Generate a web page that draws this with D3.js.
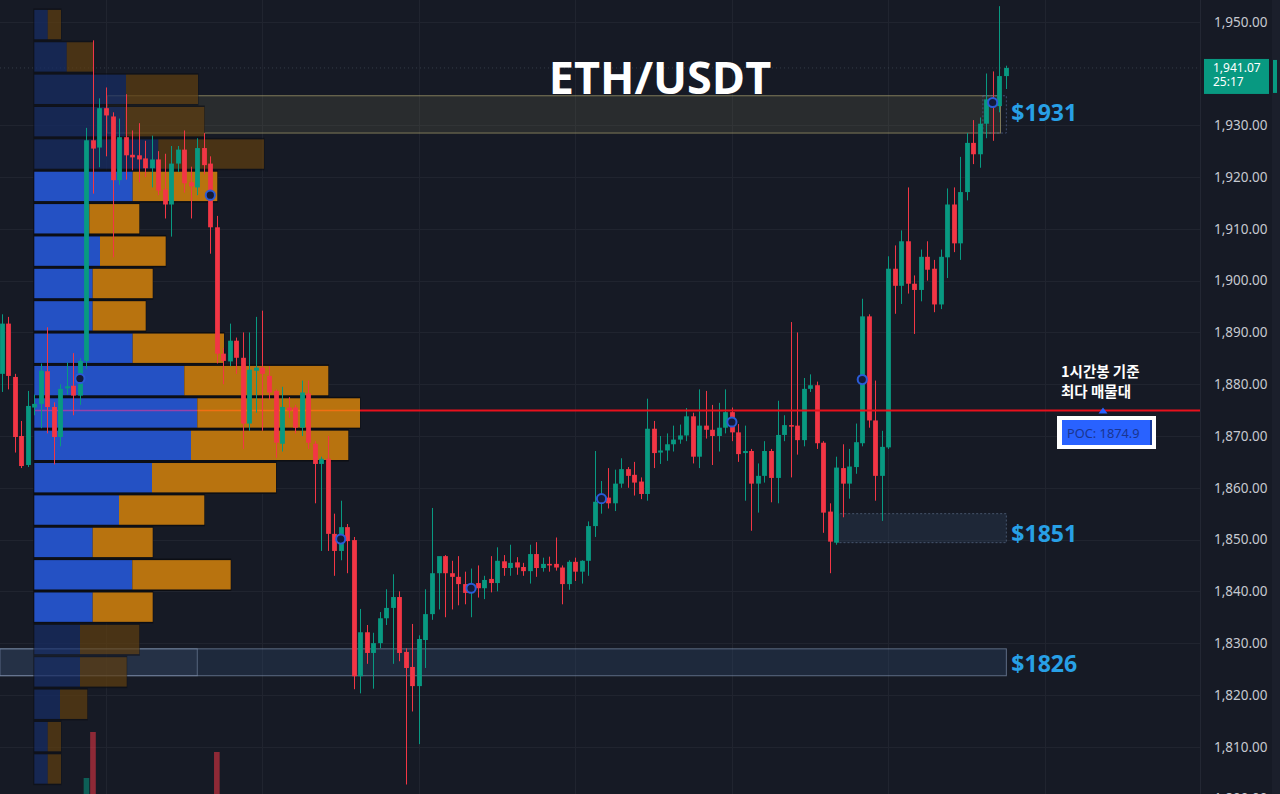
<!DOCTYPE html>
<html>
<head>
<meta charset="utf-8">
<script src="https://cdn.jsdelivr.net/npm/d3@7"></script>
<style>
html, body { margin: 0; padding: 0; background: #161a25; overflow: hidden; }
svg { display: block; }
</style>
</head>
<body>
<svg id="chart" width="1280" height="794"></svg>
<script>
// [open, high, low, close] per candle
const candles = [
  [1882.0,1893.5,1878.5,1891.7],[1891.7,1893.0,1879.0,1881.6],[1881.4,1882.0,1866.8,1869.8],[1870.0,1872.9,1863.8,1864.2],
  [1864.4,1878.7,1864.0,1875.8],[1875.5,1878.0,1874.0,1876.2],[1876.2,1884.0,1871.5,1882.6],[1882.5,1891.0,1870.5,1875.6],
  [1875.6,1876.5,1864.5,1869.8],[1869.8,1880.0,1868.0,1879.1],[1879.2,1884.2,1878.0,1879.6],[1879.7,1886.0,1874.0,1877.8],
  [1877.8,1885.0,1876.0,1884.5],[1884.5,1929.5,1883.0,1927.1],[1927.1,1946.4,1916.8,1925.5],[1925.7,1935.2,1921.9,1933.3],
  [1933.3,1937.3,1924.0,1931.9],[1931.7,1932.5,1904.5,1919.4],[1919.4,1931.3,1918.5,1927.7],[1927.7,1936.0,1919.5,1924.2],
  [1924.3,1929.0,1921.3,1923.8],[1924.2,1930.4,1919.0,1923.4],[1923.6,1927.0,1920.0,1921.7],[1921.7,1928.0,1918.0,1923.4],
  [1923.4,1925.0,1916.5,1917.4],[1917.6,1924.5,1912.0,1914.7],[1914.7,1926.0,1908.5,1922.6],[1922.6,1926.0,1921.0,1925.3],
  [1925.3,1929.0,1917.0,1918.8],[1919.0,1922.0,1912.0,1918.2],[1918.0,1927.5,1916.5,1925.6],[1925.6,1928.5,1920.5,1922.3],
  [1922.6,1924.0,1905.2,1910.3],[1910.3,1912.5,1884.0,1885.9],[1885.9,1887.0,1880.0,1884.5],[1884.4,1891.7,1883.5,1888.4],
  [1888.4,1889.0,1882.0,1885.1],[1885.1,1890.0,1867.5,1872.4],[1872.4,1890.0,1871.0,1882.8],[1882.6,1893.0,1874.5,1883.2],
  [1883.2,1894.2,1871.0,1882.0],[1881.6,1883.5,1877.0,1878.4],[1878.7,1879.0,1865.8,1868.7],[1868.5,1879.5,1867.0,1875.6],
  [1875.5,1877.5,1873.5,1874.9],[1875.5,1876.0,1870.5,1871.6],[1871.6,1880.7,1870.0,1878.4],[1878.2,1880.7,1867.5,1868.7],
  [1868.5,1869.0,1857.0,1864.6],[1864.6,1866.0,1847.8,1865.6],[1865.6,1870.0,1847.8,1851.1],[1851.1,1855.0,1843.0,1847.8],
  [1847.8,1857.5,1846.0,1852.4],[1852.4,1853.0,1843.5,1849.7],[1849.9,1850.5,1821.1,1823.6],[1823.6,1836.6,1820.3,1832.1],
  [1832.1,1833.5,1826.0,1828.1],[1828.1,1832.0,1821.2,1830.0],[1830.0,1836.0,1829.0,1834.8],[1834.8,1840.4,1833.5,1836.8],
  [1836.8,1843.3,1826.0,1838.9],[1838.9,1840.0,1826.5,1828.1],[1828.3,1829.0,1802.7,1825.2],[1825.4,1833.7,1816.8,1821.7],
  [1821.7,1831.5,1810.5,1830.8],[1830.6,1840.4,1825.2,1835.6],[1835.6,1856.1,1834.5,1843.5],[1843.5,1846.2,1836.5,1846.8],
  [1846.8,1847.0,1835.0,1843.5],[1843.5,1845.9,1836.5,1842.8],[1842.8,1846.8,1837.3,1841.4],[1841.4,1843.8,1837.5,1839.7],
  [1839.8,1844.4,1835.0,1841.2],[1841.6,1845.0,1838.8,1840.6],[1840.6,1843.0,1838.5,1842.2],[1842.4,1846.8,1839.8,1841.6],
  [1841.6,1848.5,1840.0,1845.9],[1845.8,1847.0,1843.0,1844.5],[1844.5,1849.0,1843.0,1845.5],[1845.6,1846.6,1843.2,1844.6],
  [1844.7,1845.5,1843.0,1843.9],[1843.9,1849.0,1841.5,1847.2],[1847.2,1849.5,1842.8,1844.5],[1844.5,1846.5,1843.8,1845.3],
  [1845.3,1846.7,1843.8,1845.0],[1845.3,1850.4,1844.0,1844.6],[1844.6,1845.0,1837.5,1841.4],[1841.4,1846.0,1840.3,1845.7],
  [1845.7,1846.5,1842.0,1843.8],[1843.8,1846.0,1841.5,1845.9],[1845.9,1853.5,1843.0,1852.6],[1852.6,1867.1,1850.5,1857.3],
  [1857.3,1861.3,1855.0,1858.2],[1858.1,1863.8,1856.0,1857.0],[1857.0,1863.5,1855.5,1860.8],[1860.8,1865.7,1860.0,1863.6],
  [1863.6,1864.0,1860.0,1862.3],[1862.5,1865.0,1858.5,1861.0],[1861.2,1862.0,1857.8,1858.8],[1858.8,1877.2,1857.5,1871.4],
  [1871.4,1872.9,1863.8,1866.7],[1866.8,1870.0,1864.6,1867.2],[1867.2,1870.5,1865.2,1868.4],[1868.4,1872.0,1867.0,1869.3],
  [1869.3,1872.2,1868.5,1870.1],[1870.1,1875.4,1869.0,1873.8],[1873.8,1874.5,1864.7,1866.0],[1866.0,1879.0,1863.8,1872.0],
  [1872.0,1878.7,1869.5,1871.2],[1871.2,1876.0,1864.4,1870.0],[1870.0,1876.4,1867.0,1871.6],[1871.6,1879.0,1870.5,1874.6],
  [1874.6,1875.5,1869.0,1870.7],[1870.7,1872.3,1865.0,1866.5],[1866.7,1872.0,1857.5,1867.1],[1867.1,1867.5,1851.7,1860.8],
  [1860.8,1864.7,1855.2,1862.3],[1862.3,1869.0,1861.0,1867.1],[1867.1,1867.5,1857.2,1861.9],[1861.9,1876.8,1857.0,1870.2],
  [1870.2,1874.0,1869.0,1872.1],[1872.1,1892.0,1862.0,1871.8],[1872.0,1890.0,1866.4,1869.2],[1869.2,1881.2,1868.0,1879.1],
  [1879.1,1881.9,1878.5,1879.8],[1879.8,1880.5,1867.5,1868.6],[1868.7,1869.0,1851.3,1855.2],[1855.4,1857.0,1843.5,1849.6],
  [1849.4,1866.0,1849.0,1863.9],[1863.8,1868.4,1854.3,1860.8],[1860.8,1867.5,1857.9,1864.1],[1864.0,1872.4,1862.7,1868.8],
  [1868.6,1896.5,1868.0,1893.1],[1893.1,1893.5,1871.6,1873.0],[1873.0,1880.7,1857.5,1862.3],[1862.3,1871.0,1853.6,1867.9],
  [1867.8,1904.7,1867.5,1902.3],[1902.3,1906.8,1893.6,1899.0],[1899.0,1909.7,1895.5,1907.6],[1907.6,1918.0,1897.5,1899.4],
  [1899.4,1901.0,1889.7,1898.2],[1898.2,1906.0,1896.0,1904.6],[1904.6,1907.6,1900.0,1902.1],[1902.3,1904.0,1893.9,1895.4],
  [1895.4,1906.0,1894.5,1904.6],[1904.5,1917.8,1900.5,1914.7],[1914.7,1918.0,1905.5,1907.2],[1907.2,1923.9,1904.0,1917.1],
  [1917.1,1928.5,1915.5,1926.6],[1926.6,1931.0,1922.5,1924.4],[1924.4,1931.5,1921.8,1930.3],[1930.3,1940.0,1927.5,1935.0],
  [1935.2,1940.4,1927.0,1933.5],[1933.7,1953.0,1932.5,1939.5],[1939.5,1941.5,1937.0,1941.07]
]

// visible volume bars at the bottom edge
const volIdx = [13, 14, 33]
const volVal = [22, 68, 48]

// volume profile (top bin first)
const profileTop = 1952.57
const binSize = 6.25
const buyVol = [13.4, 32.4, 91.7, 91, 124, 98.4, 55, 65.7, 58.4, 58.4, 98.4, 150, 163, 156.7, 117.7, 84.7, 58.4, 98, 58.4, 45.7, 45.7, 25.7, 13.4, 13.4]
const sellVol = [13.3, 26.6, 72, 79, 105.7, 84.6, 50, 65.7, 60, 53, 91.3, 144, 162.7, 157.3, 124, 85.3, 60, 98.4, 60, 59.3, 46.7, 27.3, 13.3, 13.3]
const vaFirst = 5
const vaLast = 18

const poc = 1874.9
const lastPrice = 1941.07
const countdown = "25:17"

// session markers (candle index, price)
const markerIdx = [12, 32, 52, 72, 92, 112, 132, 152]
const markerPrice = [1881.1, 1916.5, 1850.1, 1840.6, 1857.9, 1872.7, 1880.9, 1934.4]

// zones
const zoneLabels = ["$1931", "$1851", "$1826"]
const zoneLow = [1928.5, 1849.4, 1823.7]
const zoneHigh = [1935.7, 1855.0, 1828.9]
const zoneFrom = [16.2, 128, -0.3]
const zoneTo = [153.2, 154.1, 154.1]

const priceTicks = [1800, 1810, 1820, 1830, 1840, 1850, 1860, 1870, 1880, 1890, 1900, 1910, 1920, 1930, 1950]
const gridIdx = [16, 40, 64, 88, 112, 136, 160]

const W = 1280, H = 794
const plotRight = 1200
const up = "#089981", down = "#f23645"

const svg = d3.select("#chart")
const y = d3.scaleLinear().domain([1810, 1950]).range([746.7, 21.7])
const x = d3.scaleLinear().domain([0, 154]).range([1.7, 1005.7])
const vol = d3.scaleLinear().domain([0, 100]).range([800, 700])
const prof = d3.scaleLinear().domain([0, 100]).range([34.3, 134.3])

svg.append("rect").attr("width", W).attr("height", H).attr("fill", "#161a25")

// grid
const grid = svg.append("g")
grid.selectAll(".h").data(priceTicks).join("line")
    .attr("x1", 0).attr("x2", plotRight)
    .attr("y1", d => Math.round(y(d)) + 0.5).attr("y2", d => Math.round(y(d)) + 0.5)
    .attr("stroke", "#20242f")
grid.selectAll(".v").data(gridIdx).join("line")
    .attr("x1", d => Math.round(x(d)) + 0.5).attr("x2", d => Math.round(x(d)) + 0.5)
    .attr("y1", 0).attr("y2", H)
    .attr("stroke", "#20242f")

// zones
const zg = svg.append("g")
const labelShift = [-2, 5, 1]
zoneLabels.forEach((lab, k) => {
    const x0 = x(zoneFrom[k]), x1 = x(zoneTo[k])
    const y0 = y(zoneHigh[k]), y1 = y(zoneLow[k])
    if (k === 0) {
        zg.append("rect").attr("x", x0).attr("y", y0).attr("width", x1 - x0).attr("height", y1 - y0)
            .attr("fill", "rgba(110,110,80,0.22)").attr("stroke", "rgba(170,160,110,0.7)").attr("stroke-width", 1)
        zg.append("rect").attr("x", x(150.5)).attr("y", y0).attr("width", x(154.1) - x(150.5)).attr("height", y1 - y0)
            .attr("fill", "none").attr("stroke", "rgba(90,110,160,0.6)").attr("stroke-dasharray", "2,2")
    } else if (k === 1) {
        zg.append("rect").attr("x", x0).attr("y", y0).attr("width", x1 - x0).attr("height", y1 - y0)
            .attr("fill", "rgba(50,70,100,0.3)").attr("stroke", "rgba(100,120,150,0.6)").attr("stroke-dasharray", "2,2")
    } else {
        zg.append("rect").attr("x", x0).attr("y", y0).attr("width", x1 - x0).attr("height", y1 - y0)
            .attr("fill", "rgba(50,75,115,0.3)").attr("stroke", "rgba(150,170,200,0.55)")
        zg.append("rect").attr("x", x0).attr("y", y0).attr("width", x(30) - x0).attr("height", y1 - y0)
            .attr("fill", "rgba(90,110,150,0.12)").attr("stroke", "rgba(150,170,200,0.45)")
    }
    zg.append("text").attr("x", x(154.1) + 5).attr("y", (y0 + y1) / 2 + labelShift[k])
        .attr("dominant-baseline", "central")
        .attr("font-family", "'Open Sans', sans-serif").attr("font-weight", 700).attr("font-size", 23)
        .attr("fill", "#28a0e6").text(lab)
})

// last price dotted line
svg.append("line").attr("x1", 0).attr("x2", plotRight + 4)
    .attr("y1", y(lastPrice)).attr("y2", y(lastPrice))
    .attr("stroke", "rgba(120,140,150,0.3)").attr("stroke-dasharray", "1,3")

// volume bars
svg.append("g").selectAll("rect").data(volIdx).join("rect")
    .attr("x", d => x(d) - 2.8).attr("width", 5.6)
    .attr("y", (d, k) => vol(volVal[k])).attr("height", (d, k) => vol(0) - vol(volVal[k]))
    .attr("fill", d => candles[d][3] >= candles[d][0] ? "rgba(8,153,129,0.55)" : "rgba(242,54,69,0.55)")

// volume profile
const rows = buyVol.map((b, k) => ({k, b, s: sellVol[k], top: profileTop - k * binSize}))
const inVA = d => d.k >= vaFirst && d.k <= vaLast
const pg = svg.append("g")
pg.selectAll(".back").data(rows).join("rect")
    .attr("x", prof(0) - 1).attr("y", d => y(d.top))
    .attr("width", d => prof(d.b + d.s) - prof(0) + 1.5)
    .attr("height", d => y(d.top - binSize) - y(d.top))
    .attr("fill", "#0c0e14")
    .attr("opacity", d => inVA(d) ? 1 : 0.6)
pg.selectAll(".buy").data(rows).join("rect")
    .attr("x", prof(0)).attr("y", d => y(d.top) + 1.5)
    .attr("width", d => prof(d.b) - prof(0))
    .attr("height", d => y(d.top - binSize) - y(d.top) - 3)
    .attr("fill", "#2451c4")
    .attr("opacity", d => inVA(d) ? 1 : 0.33)
pg.selectAll(".sell").data(rows).join("rect")
    .attr("x", d => prof(d.b)).attr("y", d => y(d.top) + 1.5)
    .attr("width", d => prof(d.s) - prof(0))
    .attr("height", d => y(d.top - binSize) - y(d.top) - 3)
    .attr("fill", "#b8730f")
    .attr("opacity", d => inVA(d) ? 1 : 0.35)

// poc line inside profile
const pocRow = rows.find(d => poc <= d.top && poc > d.top - binSize)
svg.append("line").attr("x1", prof(0)).attr("x2", prof(pocRow.b))
    .attr("y1", y(poc)).attr("y2", y(poc))
    .attr("stroke", "rgba(200,60,160,0.7)").attr("stroke-width", 1.5)
svg.append("line").attr("x1", prof(pocRow.b)).attr("x2", prof(pocRow.b + pocRow.s))
    .attr("y1", y(poc)).attr("y2", y(poc))
    .attr("stroke", "rgba(255,110,20,0.8)").attr("stroke-width", 1.5)

// candles
const cg = svg.append("g")
cg.selectAll("line").data(candles).join("line")
    .attr("x1", (d, i) => Math.round(x(i)) + 0.5).attr("x2", (d, i) => Math.round(x(i)) + 0.5)
    .attr("y1", d => y(d[1])).attr("y2", d => y(d[2]))
    .attr("stroke", d => d[3] >= d[0] ? up : down).attr("stroke-width", 1)
cg.selectAll("rect").data(candles).join("rect")
    .attr("x", (d, i) => Math.round(x(i)) + 0.5 - 2.4).attr("width", 4.8)
    .attr("y", d => y(Math.max(d[0], d[3])))
    .attr("height", d => Math.max(1.2, Math.abs(y(d[0]) - y(d[3]))))
    .attr("fill", d => d[3] >= d[0] ? up : down)

// markers
svg.append("g").selectAll("circle").data(markerIdx).join("circle")
    .attr("cx", d => x(d)).attr("cy", (d, k) => y(markerPrice[k])).attr("r", 4.6)
    .attr("fill", "#141a38").attr("stroke", "#2a5bd7").attr("stroke-width", 2)

// poc line
svg.append("line").attr("x1", prof(pocRow.b + pocRow.s)).attr("x2", plotRight + 5)
    .attr("y1", y(poc)).attr("y2", y(poc))
    .attr("stroke", "#e8101c").attr("stroke-width", 2)

// title
svg.append("text").attr("x", 660).attr("y", 94).attr("text-anchor", "middle")
    .attr("font-family", "'Open Sans', sans-serif").attr("font-weight", 700).attr("font-size", 45)
    .attr("fill", "#ffffff").text("ETH/USDT")

// annotation
const note = svg.append("text").attr("font-family", "'Noto Sans CJK KR', sans-serif")
    .attr("font-weight", 700).attr("font-size", 14.5).attr("fill", "#ffffff")
note.append("tspan").attr("x", 1061).attr("y", 376.5).text("1시간봉 기준")
note.append("tspan").attr("x", 1061).attr("y", 396.5).text("최다 매물대")

// poc label
const py = y(poc)
svg.append("path")
    .attr("d", `M${1103 - 4.5},${py + 3} L${1103},${py - 3} L${1103 + 4.5},${py + 3} Z`)
    .attr("fill", "#2962ff")
svg.append("rect").attr("x", 1057).attr("y", 416).attr("width", 99).attr("height", 33).attr("fill", "#ffffff")
svg.append("rect").attr("x", 1062).attr("y", 420).attr("width", 90).attr("height", 25).attr("fill", "#2962ff")
svg.append("rect").attr("x", 1150).attr("y", 420).attr("width", 2).attr("height", 25).attr("fill", "#173a9c")
svg.append("text").attr("x", 1067).attr("y", 437.5)
    .attr("font-family", "'Noto Sans', sans-serif").attr("font-size", 12.8).attr("fill", "#1a3591")
    .text("POC: " + poc.toFixed(1))

// price axis
svg.append("rect").attr("x", plotRight).attr("y", 0).attr("width", W - plotRight).attr("height", H).attr("fill", "#161a25")
svg.append("line").attr("x1", plotRight + 0.5).attr("x2", plotRight + 0.5).attr("y1", 0).attr("y2", H).attr("stroke", "#232733")
svg.append("rect").attr("x", 1272).attr("y", 0).attr("width", 8).attr("height", H).attr("fill", "#1b1f2b")

const axis = svg.append("g").attr("transform", `translate(${plotRight},0)`)
    .call(d3.axisRight(y).tickValues(priceTicks).tickSize(0).tickPadding(14).tickFormat(d3.format(",.2f")))
axis.select(".domain").remove()
axis.selectAll("text").attr("font-family", "'Noto Sans', sans-serif").attr("font-size", 13.5).attr("fill", "#c6c9d0")

// last price tag
const ly = y(lastPrice)
svg.append("rect").attr("x", 1204).attr("y", ly - 9).attr("width", 65).attr("height", 35).attr("fill", up)
svg.append("rect").attr("x", 1273).attr("y", ly - 8).attr("width", 4).attr("height", 33).attr("fill", up)
svg.append("text").attr("x", 1213).attr("y", ly + 4)
    .attr("font-family", "'Noto Sans', sans-serif").attr("font-size", 12).attr("fill", "#ffffff").text(d3.format(",.2f")(lastPrice))
svg.append("text").attr("x", 1213).attr("y", ly + 18.5)
    .attr("font-family", "'Noto Sans', sans-serif").attr("font-size", 12).attr("fill", "#ffffff").text(countdown)
</script>
</body>
</html>
